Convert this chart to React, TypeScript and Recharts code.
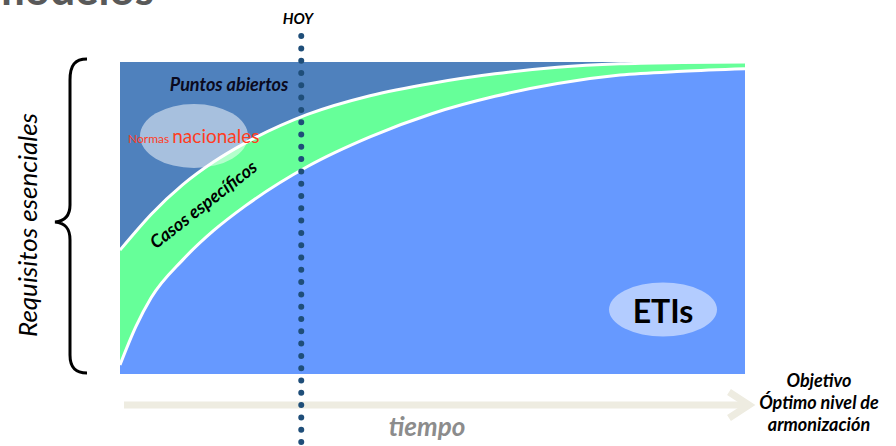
import React from 'react'
import { ComposedChart, Area, XAxis, YAxis, ReferenceLine } from 'recharts'

// tiempo (0 = inicio, 100 = objetivo)
const tiempo = [0, 2.5, 5, 10, 15, 20, 30, 40, 50, 60, 70, 80, 90, 100]
// requisitos esenciales (todo el rectángulo)
const requisitos = [100, 100, 100, 100, 100, 100, 100, 100, 100, 100, 100, 100, 100, 100]
// límite superior de "Casos específicos"
const casosEspecificos = [39.7, 45.6, 51.2, 60.6, 68, 74, 83.2, 89.2, 93.2, 96.2, 98.3, 99.4, 99.8, 100]
// límite superior de ETIs
const etis = [2.9, 15, 24.5, 36.5, 46, 53.8, 66.5, 76, 83.5, 89, 93.1, 95.8, 97, 97.8]

const HOY = 29.0

const data = tiempo.map((t, i) => ({
  t,
  requisitos: requisitos[i],
  casos: casosEspecificos[i],
  etis: etis[i],
}))

const FONT = 'Lato, "Open Sans", sans-serif'

export default function App() {
  return (
    <div style={{ position: 'absolute', left: 0, top: 0, width: 896, height: 446, fontFamily: FONT }}>
      {/* decoraciones bajo el gráfico */}
      <svg width={896} height={446} style={{ position: 'absolute', left: 0, top: 0 }}>
        <text x={-12} y={5} fontSize={44} fontWeight="bold" fill="#595959" fontFamily={FONT}>
          modelos
        </text>
        <path
          d="M 87 59 C 75 59, 70 65, 70 80 L 70 205 C 70 216, 65 221, 55 222 C 65 223, 70 228, 70 240 L 70 355 C 70 367, 75 373, 87 373"
          fill="none"
          stroke="#000"
          strokeWidth={3}
        />
        <text
          transform="translate(37 225) rotate(-90)"
          textAnchor="middle"
          fontSize={26}
          fontStyle="italic"
          fill="#000"
          fontFamily={FONT}
        >
          Requisitos esenciales
        </text>
        <line x1={124} y1={405} x2={748} y2={405} stroke="#EEECE1" strokeWidth={7} />
        <polyline points="729,392 749,405 729,418" fill="none" stroke="#EEECE1" strokeWidth={7} />
        <text x={427} y={436} textAnchor="middle" fontSize={26} fontStyle="italic" fontWeight="bold" fill="#8c8c8c" fontFamily={FONT}>
          tiempo
        </text>
        <g fontSize={18} fontStyle="italic" fontWeight="bold" fill="#000" textAnchor="middle" fontFamily={FONT}>
          <text x={819} y={387}>Objetivo</text>
          <text x={819} y={409}>Óptimo nivel de</text>
          <text x={819} y={431}>armonización</text>
        </g>
        <text x={298} y={24} textAnchor="middle" fontSize={15} fontStyle="italic" fontWeight="bold" fill="#000" fontFamily={FONT}>
          HOY
        </text>
      </svg>

      <div style={{ position: 'absolute', left: 0, top: 0 }}>
        <ComposedChart width={896} height={446} data={data} margin={{ top: 62, right: 151, bottom: 72, left: 120 }}>
          <XAxis type="number" dataKey="t" domain={[0, 100]} hide />
          <YAxis type="number" domain={[0, 100]} hide />
          <Area
            type="monotone"
            dataKey="requisitos"
            fill="#4F81BD"
            fillOpacity={1}
            stroke="none"
            isAnimationActive={false}
          />
          <Area
            type="monotone"
            dataKey="casos"
            fill="#66FF99"
            fillOpacity={1}
            stroke="#fff"
            strokeWidth={3}
            isAnimationActive={false}
          />
          <Area
            type="monotone"
            dataKey="etis"
            fill="#6699FF"
            fillOpacity={1}
            stroke="#fff"
            strokeWidth={3}
            isAnimationActive={false}
          />
          <ReferenceLine
            segment={[
              { x: HOY, y: 108.3 },
              { x: HOY, y: -25 },
            ]}
            ifOverflow="visible"
            stroke="#1F4E79"
            strokeWidth={6}
            strokeDasharray="0 12.3"
            strokeLinecap="round"
          />
        </ComposedChart>
      </div>

      {/* anotaciones sobre el gráfico */}
      <svg width={896} height={446} style={{ position: 'absolute', left: 0, top: 0, pointerEvents: 'none' }}>
        <text x={229} y={91} textAnchor="middle" fontSize={18} fontStyle="italic" fontWeight="bold" fill="#0a0a1e" fontFamily={FONT}>
          Puntos abiertos
        </text>
        <ellipse cx={194} cy={136} rx={54} ry={32} fill="#fff" fillOpacity={0.5} />
        <text x={128} y={143} fill="#FF3D1F" fontFamily={FONT}>
          <tspan fontSize={12}>Normas </tspan>
          <tspan fontSize={19}>nacionales</tspan>
        </text>
        <text
          transform="translate(203 204) rotate(-38)"
          textAnchor="middle"
          dominantBaseline="central"
          fontSize={18}
          fontStyle="italic"
          fontWeight="bold"
          fill="#000"
          fontFamily={FONT}
        >
          Casos específicos
        </text>
        <ellipse cx={663} cy={309.5} rx={54} ry={27} fill="#fff" fillOpacity={0.5} />
        <text x={663} y={323} textAnchor="middle" fontSize={32} fontWeight="bold" fill="#000" fontFamily={FONT}>
          ETIs
        </text>
      </svg>
    </div>
  )
}
